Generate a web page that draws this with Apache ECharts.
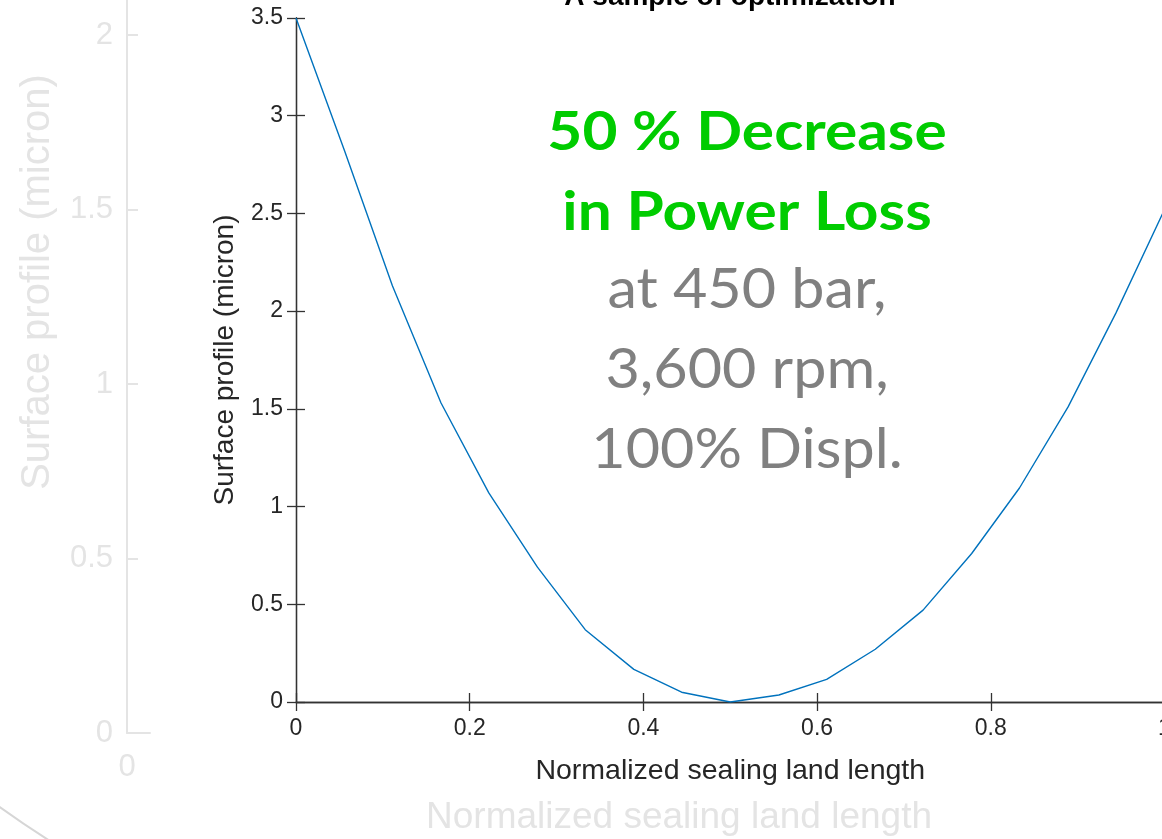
<!DOCTYPE html>
<html>
<head>
<meta charset="utf-8">
<title>A sample of optimization</title>
<script src="https://cdn.jsdelivr.net/npm/echarts@6/dist/echarts.min.js"></script>
<style>
  html, body { margin: 0; padding: 0; background: #fff; }
  #chart { width: 1162px; height: 839px; }
</style>
</head>
<body>
<div id="chart"></div>
<script>
// normalized sealing land position (x) and optimized surface profile (micron)
const landPos = [0, 0.056, 0.111, 0.167, 0.222, 0.278, 0.333, 0.389, 0.444, 0.5,
  0.556, 0.611, 0.667, 0.722, 0.778, 0.833, 0.889, 0.944, 1];
const profile = [3.5, 2.82, 2.13, 1.53, 1.07, 0.69, 0.37, 0.167, 0.05, 0.0,
  0.036, 0.116, 0.27, 0.47, 0.76, 1.095, 1.51, 1.99, 2.52];

// tick settings
const xTicks = { min: 0, max: 1, interval: 0.2 };
const yTicks = { min: 0, max: 3.5, interval: 0.5 };
const fadedXTicks = { min: 0, max: 0.1, interval: 0.1 };
const fadedYTicks = { min: 0, max: 2.5, interval: 0.5 };

const titleText = 'A sample of optimization';
const xName = 'Normalized sealing land length';
const yName = 'Surface profile (micron)';
const highlightLines = ['50 % Decrease', 'in Power Loss'];
const noteLines = ['at 450 bar,', '3,600 rpm,', '100% Displ.'];

const chart = echarts.init(document.getElementById('chart'));

const axisColor = '#333333';
const textColor = '#262626';
const fadedColor = '#e4e4e4';
const mFont = '"Liberation Sans", Arial, Helvetica, sans-serif';

// MATLAB-ish box axis helper
const boxAxis = (extra) => Object.assign({
  type: 'value',
  gridIndex: 0,
  axisLine: { show: true, lineStyle: { color: axisColor, width: 1.3 } },
  axisTick: { show: true, inside: true, length: 9, lineStyle: { color: axisColor, width: 1.3 } },
  splitLine: { show: false },
}, extra);

const dataPts = landPos.map((x, i) => [x, profile[i]]);

// overlay text (slide annotation)
const annotation = [];
highlightLines.forEach((t, i) => {
  annotation.push({
    type: 'text', x: 747, y: 133 + i * 79.5, scaleX: 1.14, z: 100,
    style: {
      text: t, x: 0, y: 0, fill: '#00cc00',
      font: 'bold 53px Lato, "Open Sans", sans-serif',
      textAlign: 'center', textVerticalAlign: 'middle'
    }
  });
});
noteLines.forEach((t, i) => {
  annotation.push({
    type: 'text', x: 747, y: 290 + i * 80, scaleX: 1.04, z: 100,
    style: {
      text: t, x: 0, y: 0, fill: '#808080',
      font: '57px Lato, "Open Sans", sans-serif',
      textAlign: 'center', textVerticalAlign: 'middle'
    }
  });
});

const option = {
  backgroundColor: '#ffffff',
  animation: false,
  grid: [
    { left: 296, top: 18, width: 868.5, height: 684, outerBoundsMode: 'none' },   // main plot
    { left: 127, top: -139.5, width: 23, height: 872.5, outerBoundsMode: 'none' } // faded plot behind
  ],
  xAxis: [
    boxAxis({
      position: 'bottom', min: xTicks.min, max: xTicks.max, interval: xTicks.interval,
      axisLabel: { color: textColor, fontSize: 23, fontFamily: mFont, margin: 15 },
      name: xName, nameLocation: 'middle', nameGap: 55,
      nameTextStyle: { color: textColor, fontSize: 28.5, fontFamily: mFont }
    }),
    boxAxis({
      position: 'top', min: xTicks.min, max: xTicks.max, interval: xTicks.interval,
      axisLabel: { show: false }
    }),
    {
      type: 'value', gridIndex: 1,
      min: fadedXTicks.min, max: fadedXTicks.max, interval: fadedXTicks.interval,
      axisLine: { show: true, lineStyle: { color: fadedColor, width: 2 } },
      axisTick: { show: false },
      splitLine: { show: false },
      axisLabel: {
        color: fadedColor, fontSize: 31, fontFamily: mFont, margin: 19,
        showMinLabel: true, showMaxLabel: false, hideOverlap: false,
        formatter: (v) => (v === 0 ? '0' : '')
      }
    }
  ],
  yAxis: [
    boxAxis({
      position: 'left', min: yTicks.min, max: yTicks.max, interval: yTicks.interval,
      axisLabel: { color: textColor, fontSize: 23, fontFamily: mFont, margin: 13 },
      name: yName, nameLocation: 'middle', nameGap: 57, nameRotate: 90,
      nameTextStyle: { color: textColor, fontSize: 28, fontFamily: mFont }
    }),
    boxAxis({
      position: 'right', min: yTicks.min, max: yTicks.max, interval: yTicks.interval,
      axisLabel: { show: false }
    }),
    {
      type: 'value', gridIndex: 1, position: 'left',
      min: fadedYTicks.min, max: fadedYTicks.max, interval: fadedYTicks.interval,
      axisLine: { show: true, lineStyle: { color: fadedColor, width: 2 } },
      axisTick: { show: true, inside: true, length: 11, lineStyle: { color: fadedColor, width: 2 } },
      splitLine: { show: false },
      axisLabel: { color: fadedColor, fontSize: 31, fontFamily: mFont, margin: 14, showMaxLabel: false }
    }
  ],
  series: [
    {
      name: 'Surface profile',
      type: 'line',
      xAxisIndex: 0,
      yAxisIndex: 0,
      data: dataPts,
      showSymbol: false,
      smooth: false,
      lineStyle: { color: '#0072bd', width: 1.4 },
      z: 5
    }
  ],
  graphic: [
    // title, mostly cut off at the top edge
    {
      type: 'text', x: 730, y: -3,
      style: {
        text: titleText, x: 0, y: 0, fill: '#000',
        font: 'bold 28px ' + mFont,
        textAlign: 'center', textVerticalAlign: 'middle'
      }
    },
    // faded axis names of the chart behind
    {
      type: 'text', x: 38, y: 282, rotation: Math.PI / 2,
      style: {
        text: yName, x: 0, y: 0, fill: fadedColor,
        font: '40px ' + mFont,
        textAlign: 'center', textVerticalAlign: 'middle'
      }
    },
    {
      type: 'text', x: 679, y: 818,
      style: {
        text: xName, x: 0, y: 0, fill: fadedColor,
        font: '37px ' + mFont,
        textAlign: 'center', textVerticalAlign: 'middle'
      }
    },
    // slide decoration arc bottom-left
    {
      type: 'arc',
      shape: { cx: 576, cy: 7, r: 986, startAngle: 2.08, endAngle: 2.26 },
      style: { stroke: '#d6d6d6', fill: null, lineWidth: 2 }
    }
  ].concat(annotation)
};

chart.setOption(option);
window.addEventListener('resize', () => chart.resize());
</script>
</body>
</html>
